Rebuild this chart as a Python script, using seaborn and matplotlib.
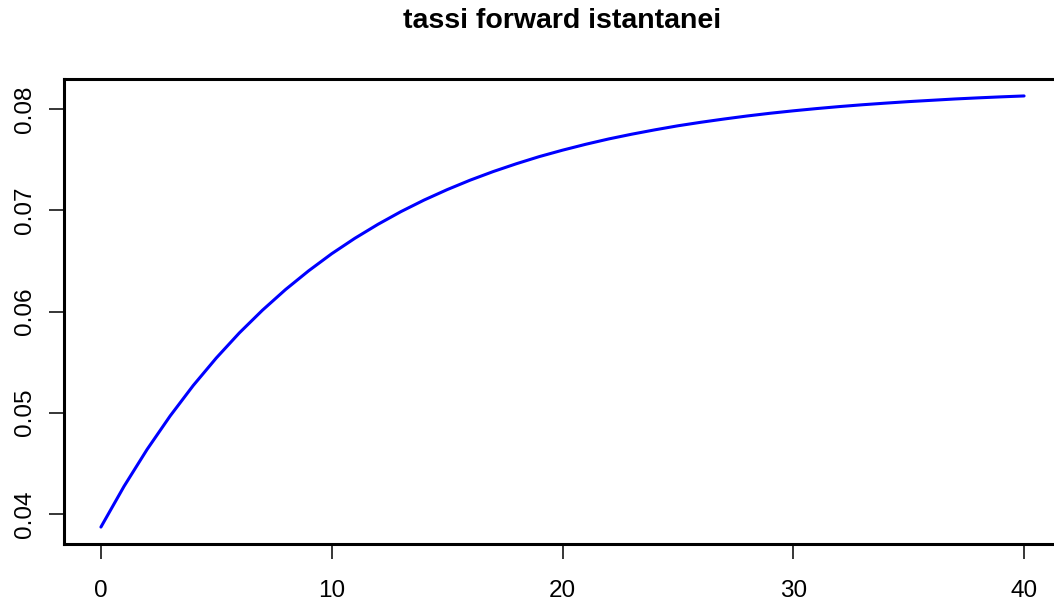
import numpy as np
import pandas as pd
import matplotlib
matplotlib.use('Agg')
import matplotlib.pyplot as plt
import seaborn as sns

# maturities (years) and instantaneous forward rates
maturity = list(range(0, 41))
forward = [0.03870, 0.04272, 0.04637, 0.04968, 0.05269, 0.05541, 0.05789, 0.06013,
           0.06217, 0.06402, 0.06571, 0.06723, 0.06861, 0.06987, 0.07101, 0.07204,
           0.07298, 0.07383, 0.07460, 0.07531, 0.07594, 0.07652, 0.07705, 0.07752,
           0.07795, 0.07835, 0.07870, 0.07902, 0.07932, 0.07959, 0.07983, 0.08005,
           0.08025, 0.08043, 0.08059, 0.08074, 0.08087, 0.08100, 0.08111, 0.08121,
           0.08130]
x_ticks = [0, 10, 20, 30, 40]
y_ticks = [0.04, 0.05, 0.06, 0.07, 0.08]
y_labels = ['0.04', '0.05', '0.06', '0.07', '0.08']

df = pd.DataFrame({'t': maturity, 'f': forward})

sns.set_style('white')
plt.rcParams['font.family'] = ['Liberation Sans', 'DejaVu Sans']

fig = plt.figure(figsize=(10.54, 6.01), dpi=100)
ax = fig.add_axes([64 / 1054, 1 - 544.3 / 601, (1061 - 64) / 1054, (544.3 - 78.7) / 601])

sns.lineplot(data=df, x='t', y='f', color='blue', linewidth=2.2, ax=ax)

# R-style 4% padding
xr = max(maturity) - min(maturity)
yr = max(forward) - min(forward)
ax.set_xlim(min(maturity) - 0.04 * xr, max(maturity) + 0.04 * xr)
ax.set_ylim(min(forward) - 0.04 * yr, max(forward) + 0.04 * yr)

ax.set_xticks(x_ticks)
ax.set_xticklabels([str(v) for v in x_ticks])
ax.set_yticks(y_ticks)
ax.set_yticklabels(y_labels, rotation=90, va='center')
ax.tick_params(axis='both', direction='out', length=10.5, width=1.1, labelsize=17.5,
               color='black', labelcolor='black', bottom=True, left=True)
ax.tick_params(axis='x', pad=15.5)
ax.tick_params(axis='y', pad=10)
ax.set_xlabel('')
ax.set_ylabel('')

for s in ax.spines.values():
    s.set_linewidth(2.2)
    s.set_color('black')

fig.text((64 + 1061) / 2 / 1054, 1 - 21 / 601, 'tassi forward istantanei',
         ha='center', va='center', fontsize=20.5, fontweight='bold', color='black')

fig.savefig('out.png', dpi=100)
